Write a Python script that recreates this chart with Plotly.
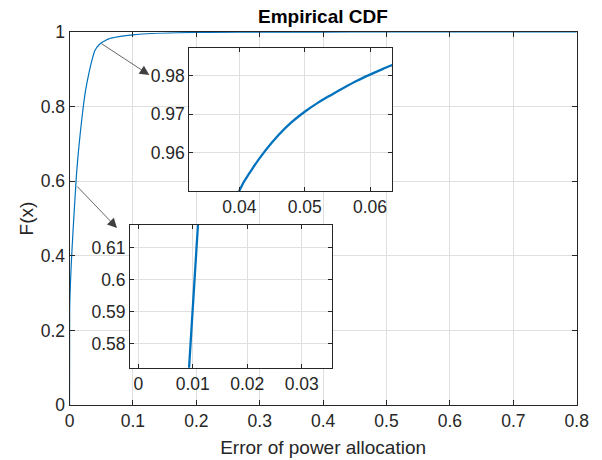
import plotly.graph_objects as go

# Empirical CDF samples (error, F(x))
err = [0, 0.0002, 0.0008, 0.002, 0.004, 0.0065, 0.00927, 0.01095, 0.0135, 0.017,
       0.021, 0.025, 0.03, 0.035, 0.04, 0.042, 0.044, 0.046, 0.048, 0.05,
       0.052, 0.054, 0.056, 0.058, 0.06, 0.062, 0.0634, 0.07, 0.08, 0.1,
       0.13, 0.17, 0.22, 0.3, 0.45, 0.8]
cdf = [0, 0.25, 0.296, 0.35, 0.42, 0.495, 0.5724, 0.6171, 0.67, 0.73,
       0.79, 0.84, 0.885, 0.922, 0.9502, 0.9559, 0.9606, 0.9646, 0.9679, 0.9706,
       0.9729, 0.9749, 0.9768, 0.9786, 0.9802, 0.9817, 0.98265, 0.9852, 0.9885, 0.9925,
       0.996, 0.998, 0.9992, 0.9998, 1.0, 1.0]

main_xticks = [0, 0.1, 0.2, 0.3, 0.4, 0.5, 0.6, 0.7, 0.8]
main_yticks = [0, 0.2, 0.4, 0.6, 0.8, 1]
in1_xticks = [0.04, 0.05, 0.06]
in1_yticks = [0.96, 0.97, 0.98]
in2_xticks = [0, 0.01, 0.02, 0.03]
in2_yticks = [0.58, 0.59, 0.6, 0.61]

BLUE = "#0072BD"
AX = "#262626"
GRID = "#dfdfdf"
FONT = "Liberation Sans, Arial, sans-serif"
FS = 17.5

fig = go.Figure()
fig.add_trace(go.Scatter(x=err, y=cdf, mode="lines",
                         line=dict(color=BLUE, width=1.2, shape="spline", smoothing=0.8),
                         xaxis="x", yaxis="y", hoverinfo="skip"))
fig.add_trace(go.Scatter(x=err, y=cdf, mode="lines",
                         line=dict(color=BLUE, width=2.3, shape="spline", smoothing=1.0),
                         xaxis="x2", yaxis="y2", hoverinfo="skip"))
fig.add_trace(go.Scatter(x=err, y=cdf, mode="lines", line=dict(color=BLUE, width=2.3),
                         xaxis="x3", yaxis="y3", hoverinfo="skip"))

def ax(domain, rng, ticks, anchor, ticklen=5):
    return dict(domain=domain, range=rng, tickvals=ticks, anchor=anchor,
                showline=True, mirror="ticks", linecolor=AX, linewidth=1,
                ticks="inside", ticklen=ticklen, tickcolor=AX, tickwidth=1,
                showgrid=True, gridcolor=GRID, gridwidth=1, zeroline=False,
                automargin=False,
                tickfont=dict(family=FONT, size=FS, color=AX))

fig.update_layout(
    width=602, height=460, margin=dict(l=0, r=0, t=0, b=0, autoexpand=False),
    paper_bgcolor="white", plot_bgcolor="white", showlegend=False,
    font=dict(family=FONT, color=AX),
    xaxis=ax([0.1155, 0.958], [0, 0.8], main_xticks, "y"),
    yaxis=ax([0.1196, 0.9304], [0, 1], main_yticks, "x"),
    xaxis2=ax([0.3145, 0.6512], [0.03234, 0.06337], in1_xticks, "y2", 4),
    yaxis2=ax([0.5848, 0.8957], [0.9501, 0.9871], in1_yticks, "x2", 4),
    xaxis3=ax([0.2159, 0.5515], [-0.00152, 0.03554], in2_xticks, "y3", 4),
    yaxis3=ax([0.2007, 0.5109], [0.5724, 0.6171], in2_yticks, "x3", 4),
)
fig.layout.xaxis.title = dict(text="Error of power allocation", font=dict(family=FONT, size=19, color=AX), standoff=10)
fig.layout.yaxis.title = dict(text="F(x)", font=dict(family=FONT, size=19, color=AX), standoff=2)

fig.add_annotation(x=0.5365, y=0.9635, xref="paper", yref="paper", text="<b>Empirical CDF</b>",
                   showarrow=False, font=dict(family=FONT, size=19, color="#000000"),
                   xanchor="center", yanchor="middle")

# arrows from curve to insets
fig.add_annotation(x=0.1259, y=0.8847, ax=0.0481, ay=0.9713, xref="x", yref="y",
                   axref="x", ayref="y", text="", showarrow=True, arrowhead=2,
                   arrowsize=2.4, arrowwidth=0.8, arrowcolor="#404040", standoff=0, startstandoff=0)
fig.add_annotation(x=0.0749, y=0.4745, ax=0.0098, ay=0.59, xref="x", yref="y",
                   axref="x", ayref="y", text="", showarrow=True, arrowhead=2,
                   arrowsize=2.4, arrowwidth=0.8, arrowcolor="#404040", standoff=0, startstandoff=0)

fig.write_html("out.html")
